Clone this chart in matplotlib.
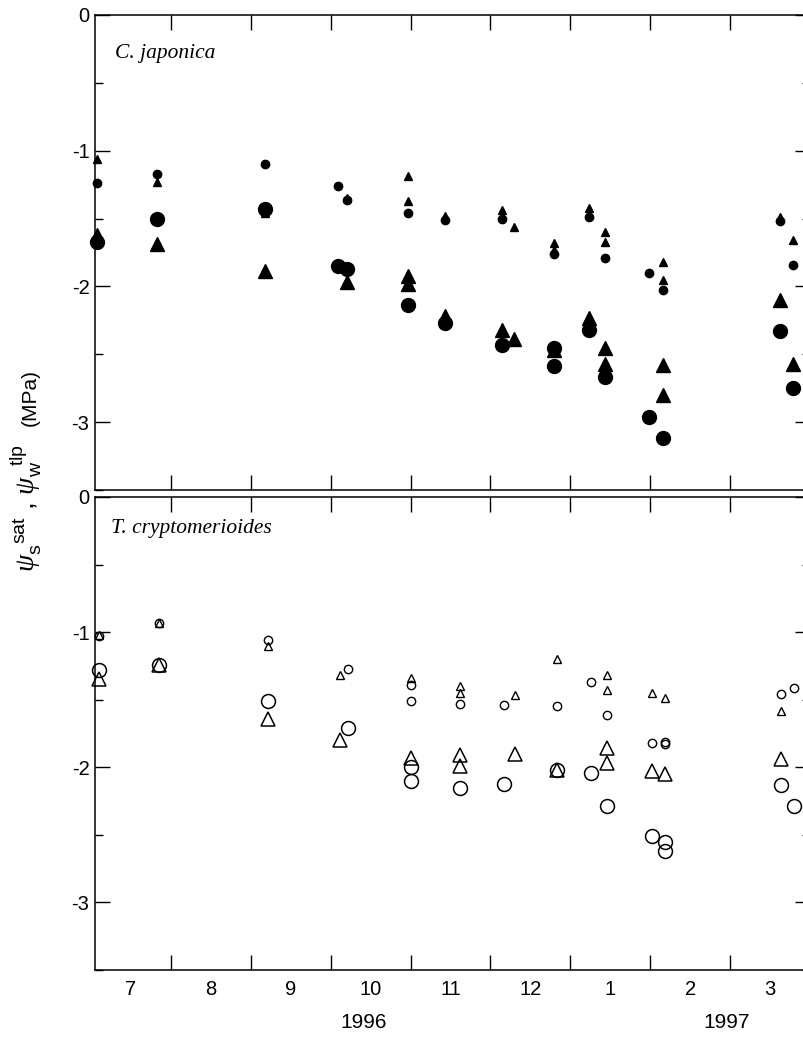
import matplotlib
matplotlib.use('Agg')
import matplotlib.pyplot as plt
from matplotlib.ticker import FixedLocator, NullFormatter, MultipleLocator

plt.rcParams['font.family'] = ['Liberation Sans', 'DejaVu Sans']
plt.rcParams['mathtext.fontset'] = 'custom'
plt.rcParams['mathtext.rm'] = 'Liberation Sans'
plt.rcParams['mathtext.it'] = 'Liberation Serif:italic'

# x positions in month units (7.0 = 1 July 1996, 13.0 = 1 Jan 1997)
# --- C. japonica (filled symbols)
cj_small_circ_x = [7.07, 7.82, 9.18, 10.09, 10.20, 10.97, 11.43, 12.15, 12.80, 13.23, 13.43, 13.99, 14.16, 15.62, 15.79]
cj_small_circ_y = [-1.24, -1.17, -1.10, -1.26, -1.36, -1.46, -1.51, -1.50, -1.76, -1.49, -1.79, -1.90, -2.03, -1.52, -1.84]
cj_small_tri_x = [7.07, 7.82, 9.18, 10.20, 10.97, 10.97, 11.43, 12.15, 12.29, 12.80, 12.80, 13.23, 13.43, 13.43, 14.16, 14.16, 15.62, 15.79]
cj_small_tri_y = [-1.06, -1.23, -1.46, -1.35, -1.19, -1.37, -1.48, -1.44, -1.56, -1.68, -1.73, -1.42, -1.60, -1.67, -1.82, -1.95, -1.49, -1.66]
cj_large_circ_x = [7.07, 7.82, 9.18, 10.09, 10.20, 10.97, 11.43, 12.15, 12.80, 12.80, 13.23, 13.43, 13.99, 14.16, 15.62, 15.79]
cj_large_circ_y = [-1.67, -1.50, -1.43, -1.85, -1.87, -2.14, -2.27, -2.43, -2.45, -2.59, -2.32, -2.67, -2.96, -3.12, -2.33, -2.75]
cj_large_tri_x = [7.07, 7.82, 9.18, 10.20, 10.97, 10.97, 11.43, 12.15, 12.29, 12.80, 13.23, 13.43, 13.43, 14.16, 14.16, 15.62, 15.79]
cj_large_tri_y = [-1.62, -1.69, -1.89, -1.97, -1.92, -1.98, -2.22, -2.32, -2.39, -2.47, -2.23, -2.45, -2.57, -2.58, -2.80, -2.10, -2.57]

# --- T. cryptomerioides (open symbols)
tc_small_circ_x = [7.10, 7.85, 9.21, 10.22, 11.00, 11.00, 11.62, 12.17, 12.83, 13.26, 13.46, 14.02, 14.18, 14.18, 15.64, 15.80]
tc_small_circ_y = [-1.03, -0.935, -1.055, -1.27, -1.39, -1.51, -1.53, -1.54, -1.55, -1.37, -1.61, -1.82, -1.81, -1.83, -1.46, -1.41]
tc_small_tri_x = [7.10, 7.85, 9.21, 10.12, 11.00, 11.62, 11.62, 12.31, 12.83, 13.46, 13.46, 14.02, 14.18, 15.64]
tc_small_tri_y = [-1.02, -0.93, -1.10, -1.32, -1.34, -1.40, -1.45, -1.465, -1.20, -1.32, -1.43, -1.45, -1.485, -1.58]
tc_large_circ_x = [7.10, 7.85, 9.21, 10.22, 11.00, 11.00, 11.62, 12.17, 12.83, 13.26, 13.46, 14.02, 14.18, 14.18, 15.64, 15.80]
tc_large_circ_y = [-1.28, -1.24, -1.51, -1.71, -2.00, -2.10, -2.15, -2.12, -2.02, -2.04, -2.29, -2.51, -2.55, -2.62, -2.13, -2.29]
tc_large_tri_x = [7.10, 7.85, 9.21, 10.12, 11.00, 11.62, 11.62, 12.31, 12.83, 13.46, 13.46, 14.02, 14.18, 15.64]
tc_large_tri_y = [-1.35, -1.24, -1.64, -1.80, -1.93, -1.91, -1.99, -1.90, -2.02, -1.86, -1.97, -2.03, -2.05, -1.94]

month_pos = [7.5, 8.5, 9.5, 10.5, 11.5, 12.5, 13.5, 14.5, 15.5]
month_labels = ['7', '8', '9', '10', '11', '12', '1', '2', '3']
month_edges = [8, 9, 10, 11, 12, 13, 14, 15]

W, H = 804, 1037
fig = plt.figure(figsize=(W / 100, H / 100), dpi=100)

def px_axes(left, top, right, bottom):
    return fig.add_axes([left / W, 1 - bottom / H, (right - left) / W, (bottom - top) / H])

ax1 = px_axes(95, 15, 810, 490)
ax2 = px_axes(95, 497, 810, 970)


def style(ax, show_x):
    ax.set_xlim(7.05, 16.0)
    ax.set_ylim(-3.5, 0)
    for s in ax.spines.values():
        s.set_linewidth(1.1)
    ax.xaxis.set_major_locator(FixedLocator(month_edges))
    ax.xaxis.set_major_formatter(NullFormatter())
    ax.xaxis.set_minor_locator(FixedLocator(month_pos))
    if show_x:
        ax.set_xticks(month_pos, month_labels, minor=True)
    else:
        ax.xaxis.set_minor_formatter(NullFormatter())
    ax.tick_params(axis='x', which='major', direction='in', length=11, width=1, top=True, bottom=True)
    ax.tick_params(axis='x', which='minor', length=0, pad=7, labelsize=14.5)
    ax.set_yticks([0, -1, -2, -3])
    ax.set_yticklabels(['0', '-1', '-2', '-3'])
    ax.yaxis.set_minor_locator(MultipleLocator(0.5))
    ax.tick_params(axis='y', which='major', direction='in', length=11, width=1, left=True, right=True,
                   labelsize=14.5, pad=4)
    ax.tick_params(axis='y', which='minor', direction='in', length=6, width=1, left=True, right=True)


style(ax1, False)
style(ax2, True)

big, small = 10, 6
ax1.plot(cj_large_tri_x, cj_large_tri_y, '^', color='black', ms=big, ls='none', clip_on=False)
ax1.plot(cj_large_circ_x, cj_large_circ_y, 'o', color='black', ms=big, ls='none', clip_on=False)
ax1.plot(cj_small_tri_x, cj_small_tri_y, '^', color='black', ms=small, ls='none', clip_on=False)
ax1.plot(cj_small_circ_x, cj_small_circ_y, 'o', color='black', ms=small, ls='none', clip_on=False)

ax2.plot(tc_large_tri_x, tc_large_tri_y, '^', mfc='none', mec='black', mew=1.1, ms=big, ls='none', clip_on=False)
ax2.plot(tc_large_circ_x, tc_large_circ_y, 'o', mfc='none', mec='black', mew=1.1, ms=big, ls='none', clip_on=False)
ax2.plot(tc_small_tri_x, tc_small_tri_y, '^', mfc='none', mec='black', mew=1.0, ms=small, ls='none', clip_on=False)
ax2.plot(tc_small_circ_x, tc_small_circ_y, 'o', mfc='none', mec='black', mew=1.0, ms=small, ls='none', clip_on=False)

ax1.text(0.028, 0.909, 'C. japonica', transform=ax1.transAxes, family='Liberation Serif',
         style='italic', fontsize=15.5, va='baseline')
ax2.text(0.022, 0.924, 'T. cryptomerioides', transform=ax2.transAxes, family='Liberation Serif',
         style='italic', fontsize=15.5, va='baseline')

# y label: symbols part larger than the unit part
fig.text(36 / W, 1 - 508 / H,
         r'$\mathit{\psi}_{\mathrm{s}}^{\ \ \mathrm{sat}}$ , $\mathit{\psi}_{\mathrm{w}}^{\ \ \mathrm{tlp}}$',
         rotation=90, rotation_mode='anchor', ha='center', va='baseline', fontsize=20)
fig.text(36 / W, 1 - 397 / H, '(MPa)',
         rotation=90, rotation_mode='anchor', ha='center', va='baseline', fontsize=15)
fig.text(364 / W, 1 - 1023 / H, '1996', ha='center', va='center', fontsize=15)
fig.text(727 / W, 1 - 1022 / H, '1997', ha='center', va='center', fontsize=15)

fig.savefig('out.png', dpi=100)
